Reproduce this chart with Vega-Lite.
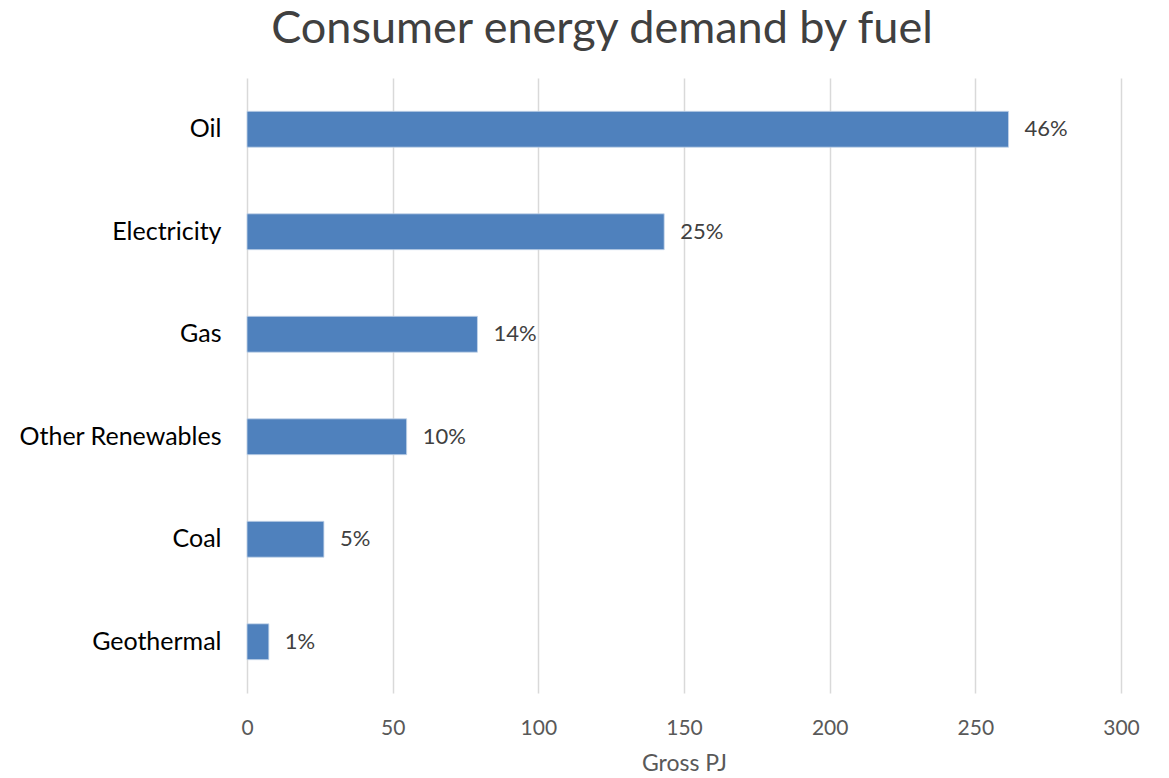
{
  "$schema": "https://vega.github.io/schema/vega-lite/v6.json",
  "autosize": {"type": "none"},
  "width": 874,
  "height": 615,
  "padding": {"left": 247, "top": 78, "right": 48, "bottom": 85},
  "background": "white",
  "title": {
    "text": "Consumer energy demand by fuel",
    "font": "Lato",
    "fontSize": 45,
    "fontWeight": "normal",
    "color": "#404040",
    "anchor": "middle",
    "frame": "group",
    "dx": -82,
    "offset": 26
  },
  "data": {
    "values": [
      {"fuel": "Oil", "pj": 261.4, "share": "46%"},
      {"fuel": "Electricity", "pj": 143.2, "share": "25%"},
      {"fuel": "Gas", "pj": 79.1, "share": "14%"},
      {"fuel": "Other Renewables", "pj": 54.8, "share": "10%"},
      {"fuel": "Coal", "pj": 26.4, "share": "5%"},
      {"fuel": "Geothermal", "pj": 7.5, "share": "1%"}
    ]
  },
  "encoding": {
    "y": {
      "field": "fuel",
      "type": "nominal",
      "sort": null,
      "scale": {"paddingInner": 0.65, "paddingOuter": 0.325},
      "axis": {
        "title": null,
        "domain": false,
        "ticks": false,
        "labelFont": "Lato",
        "labelFontSize": 25,
        "labelColor": "#000000",
        "labelPadding": 26,
        "labelLimit": 0
      }
    },
    "x": {
      "field": "pj",
      "type": "quantitative",
      "scale": {"domain": [0, 300], "nice": false},
      "axis": {
        "title": "Gross PJ",
        "values": [0, 50, 100, 150, 200, 250, 300],
        "domain": false,
        "ticks": false,
        "grid": true,
        "gridColor": "#D9D9D9",
        "gridWidth": 1.5,
        "labelFont": "Lato",
        "labelFontSize": 21,
        "labelColor": "#595959",
        "labelPadding": 24,
        "labelFlush": false,
        "titleFont": "Lato",
        "titleFontSize": 23,
        "titleFontWeight": "normal",
        "titleColor": "#595959",
        "titlePadding": 14
      }
    }
  },
  "layer": [
    {
      "mark": {"type": "bar", "color": "#4F81BD", "stroke": "#C5D5EA", "strokeWidth": 0.8}
    },
    {
      "mark": {
        "type": "text",
        "align": "left",
        "baseline": "middle",
        "dx": 16,
        "font": "Lato",
        "fontSize": 22,
        "color": "#404040"
      },
      "encoding": {"text": {"field": "share"}}
    }
  ],
  "config": {"view": {"stroke": null}}
}
